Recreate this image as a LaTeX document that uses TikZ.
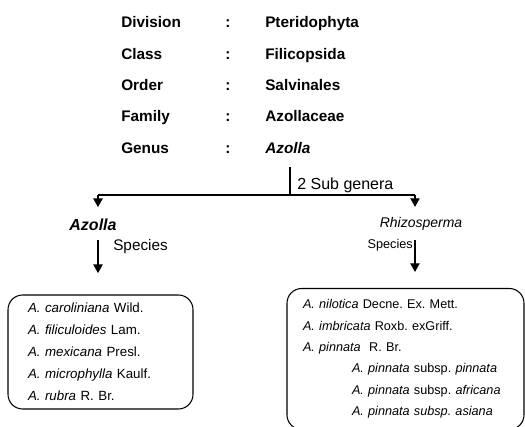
\documentclass[tikz,border=0pt]{standalone}
\usepackage{fontspec}
\setmainfont{Liberation Sans}
\usetikzlibrary{arrows.meta}
\frenchspacing

\begin{document}
\begin{tikzpicture}[x=0.75pt,y=-0.75pt,font=\fontsize{11.5}{14}\selectfont]
    \tikzstyle{rank}=[matrix,inner sep=0pt,row sep=12pt,column sep=0pt,
      nodes={anchor=base west,inner sep=0pt,text height=9pt,text depth=2.5pt,font=\fontsize{11.5}{14}\selectfont\bfseries},
      column 1/.style={nodes={text width=78pt}},column 2/.style={nodes={text width=30pt}}]
    \tikzstyle{arr}=[-{Triangle[length=6.5pt,width=7pt]},line width=0.9pt]
    \tikzstyle{list}=[draw,rounded corners=11pt,line width=0.8pt,align=left,inner ysep=0pt]
    \useasboundingbox (0,0) rectangle (525,427);
    \matrix [rank,anchor=north west] at (121,15.5) {
      \node {Division}; & \node {:}; & \node {Pteridophyta}; \\
      \node {Class}; & \node {:}; & \node {Filicopsida}; \\
      \node {Order}; & \node {:}; & \node {Salvinales}; \\
      \node {Family}; & \node {:}; & \node {Azollaceae}; \\
      \node {Genus}; & \node {:}; & \node (genus) {\itshape Azolla}; \\
    };
    \coordinate (stem) at (290,167);
    \coordinate (fork) at (290,195);
    \coordinate (fleft) at (98,195);
    \coordinate (fright) at (415,195);
    \node [anchor=west,inner sep=0pt,font=\fontsize{12}{14}\selectfont] (subgenera) at (297,185) {2 Sub genera};
    \node [anchor=base,inner sep=2pt,font=\fontsize{12}{14}\selectfont\bfseries\itshape] (azolla) at (93,231) {Azolla};
    \node [anchor=base,inner sep=2pt,font=\fontsize{10.5}{12}\selectfont\itshape] (rhizo) at (421,228) {Rhizosperma};
    \node [list,minimum width=138.75pt,minimum height=85.5pt,text width=108.75pt,inner xsep=15pt,
      font=\fontsize{10}{16.5}\selectfont] (leftlist) at (100.5,352) {
      \textit{A. caroliniana} Wild.\\
      \textit{A. filiculoides} Lam.\\
      \textit{A. mexicana} Presl.\\
      \textit{A. microphylla} Kaulf.\\
      \textit{A. rubra} R. Br.};
    \node [list,minimum width=177.75pt,minimum height=105.75pt,text width=153.75pt,inner xsep=12pt,
      font=\fontsize{9.5}{16}\selectfont] (rightlist) at (405.5,359) {
      \mbox{\textit{A. nilotica} Decne. Ex. Mett.}\\
      \mbox{\textit{A. imbricata} Roxb. exGriff.}\\
      \mbox{\textit{A. pinnata}\ \ R. Br.}\\
      \mbox{\hspace*{36.75pt}\textit{A. pinnata} subsp. \textit{pinnata}}\\
      \mbox{\hspace*{36.75pt}\textit{A. pinnata} subsp. \textit{africana}}\\
      \mbox{\hspace*{36.75pt}\textit{A. pinnata subsp. asiana}}};
    \node [anchor=west,inner sep=0pt] (spleft) at (113,247) {Species};
    \node [anchor=east,inner sep=0pt,font=\fontsize{9.5}{11}\selectfont] (spright) at (413,245) {Species};
    \draw [line width=0.9pt] (stem) -- (fork);
    \draw [line width=0.9pt] (fleft) -- (fright);
    \draw [arr,shorten >=7pt] (fleft) -- (fleft |- azolla.north);
    \draw [arr,shorten >=6pt] (fright) -- (fright |- rhizo.north);
    \draw [arr,shorten <=4.5pt,shorten >=16pt] (fleft |- azolla.south) -- (fleft |- leftlist.north);
    \draw [arr,shorten <=4.5pt,shorten >=12pt] (fright |- rhizo.south) -- (fright |- rightlist.north);
  \end{tikzpicture}
\end{document}
